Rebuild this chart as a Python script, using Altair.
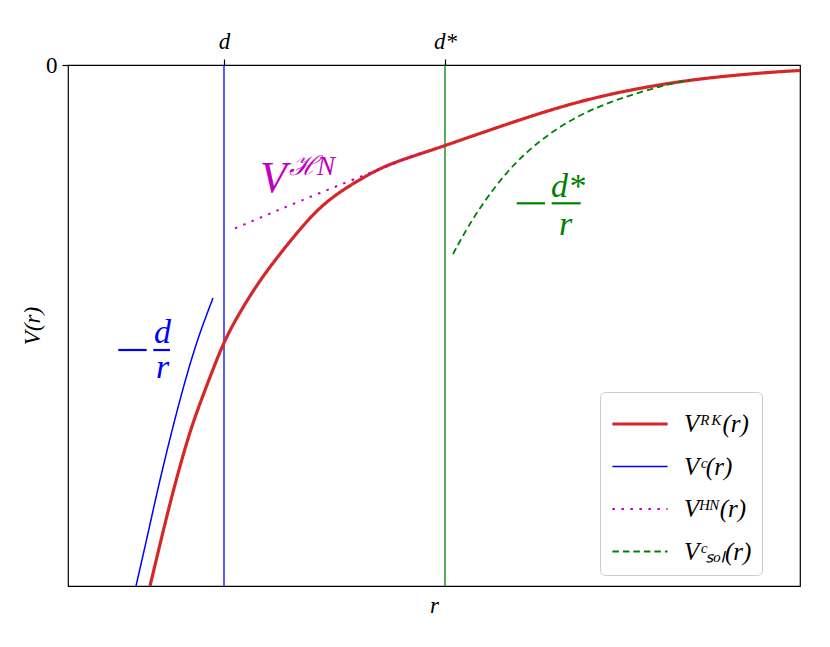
import altair as alt
import pandas as pd

# ---------------- data ----------------
series_names = ["Vᴿᴷ(r)", "Vᶜ(r)", "Vᴴᴺ(r)", "Vᶜₛₒₗ(r)"]
series_colors = ["#d62728", "#0000ff", "#bf00bf", "#008000"]
series_dash = [[1, 0], [1, 0], [2.5, 6.5], [6.5, 4]]
series_width = [3.2, 1.5, 2.0, 1.8]

red_r = [0.82, 0.937, 1.053, 1.193, 1.287, 1.42, 1.537, 1.653, 1.853, 2.053, 2.32,
         2.487, 2.653, 2.82, 2.987, 3.153, 3.32, 3.487, 3.653, 3.787, 4.39, 5.05,
         5.72, 6.39, 7.05, 7.32]
red_V = [-5.21, -4.72, -4.25, -3.75, -3.47, -3.12, -2.82, -2.585, -2.25, -1.97, -1.64,
         -1.455, -1.315, -1.205, -1.105, -1.02, -0.955, -0.90, -0.845, -0.80, -0.59, -0.375,
         -0.225, -0.125, -0.07, -0.055]

blue_r = [0.68, 0.79, 0.90, 1.02, 1.15, 1.29, 1.45]
blue_V = [-5.21, -4.73, -4.23, -3.73, -3.23, -2.75, -2.33]

mag_r = [1.67, 2.52, 3.52]
mag_V = [-1.633, -1.275, -0.883]

green_r = [3.85, 4.05, 4.39, 4.72, 5.05, 5.39, 5.72, 6.05, 6.22]
green_V = [-1.89, -1.52, -1.05, -0.75, -0.53, -0.38, -0.27, -0.18, -0.15]

# vertical markers d and d*
vline_r = [1.56, 3.77]
vline_colors = ["#0000ff", "#008000"]
vline_labels = ["d", "d*"]

# in-plot annotations
ann_text = ["V", "ℋ", "N", "d", "r", "d*", "r"]
ann_r = [2.055, 2.35, 2.58, 0.945, 0.945, 5.0, 4.975]
ann_V = [-1.27, -1.10, -1.10, -2.78, -3.13, -1.32, -1.70]
ann_size = [44, 27, 27, 34, 34, 34, 34]
ann_color = ["#bf00bf", "#bf00bf", "#bf00bf", "#0000ff", "#0000ff", "#008000", "#008000"]

# minus signs and fraction bars of -d/r and -d*/r
bar_r1 = [0.503, 0.853, 4.487, 4.837]
bar_r2 = [0.787, 1.02, 4.77, 5.127]
bar_V = [-2.85, -2.85, -1.383, -1.383]
bar_color = ["#0000ff", "#0000ff", "#008000", "#008000"]

# ---------------- tables ----------------
rows = []
for name, rs, vs in zip(series_names, [red_r, blue_r, mag_r, green_r],
                        [red_V, blue_V, mag_V, green_V]):
    for i, (r, v) in enumerate(zip(rs, vs)):
        rows.append({"series": name, "r": r, "V": v, "i": i})
df = pd.DataFrame(rows)

ann_df = pd.DataFrame({"text": ann_text, "r": ann_r, "V": ann_V,
                       "size": ann_size, "color": ann_color})
bar_df = pd.DataFrame({"r": bar_r1, "r2": bar_r2, "V": bar_V, "color": bar_color})

FONT = "Liberation Serif"

x_scale = alt.Scale(domain=[0, 7.32], nice=False, zero=False)
y_scale = alt.Scale(domain=[-5.21, 0], nice=False, zero=False)

legend = alt.Legend(
    title=None, orient="none", legendX=532, legendY=327, padding=10,
    fillColor="white", strokeColor="#cccccc", cornerRadius=5,
    labelFont=FONT, labelFontSize=25, labelFontStyle="italic", labelColor="black",
    symbolType="M-1.38,0H1.38", symbolSize=1600, symbolOffset=8,
    labelOffset=22, rowPadding=8.5, labelLimit=300,
)

label_expr = "datum.value < 2 ? '%s' : '%s'" % (vline_labels[0], vline_labels[1])

lines = alt.Chart(df).mark_line(clip=True, interpolate="basis").encode(
    x=alt.X("r:Q", scale=x_scale,
            axis=alt.Axis(orient="top", values=vline_r, labelExpr=label_expr,
                          title=None, grid=False, domain=False, tickSize=6,
                          labelPadding=6, labelFontStyle="italic", labelFontSize=23)),
    y=alt.Y("V:Q", scale=y_scale,
            axis=alt.Axis(values=[0], labelExpr="'0'", title="V(r)", grid=False,
                          domain=False, tickSize=6, labelPadding=5,
                          titleFontStyle="italic", titlePadding=1)),
    color=alt.Color("series:N", scale=alt.Scale(domain=series_names, range=series_colors),
                    legend=legend),
    strokeDash=alt.StrokeDash("series:N", scale=alt.Scale(domain=series_names, range=series_dash),
                              legend=legend),
    strokeWidth=alt.StrokeWidth("series:N",
                                scale=alt.Scale(type="ordinal", domain=series_names, range=series_width),
                                legend=legend),
    order="i:Q",
)

vrule_d = alt.Chart(pd.DataFrame({"r": [vline_r[0]]})).mark_rule(
    color=vline_colors[0], strokeWidth=1.3).encode(
    x=alt.X("r:Q", scale=x_scale,
            axis=alt.Axis(orient="bottom", title="r", labels=False, ticks=False,
                          domain=False, grid=False, titleFontStyle="italic",
                          titlePadding=8)),
)
vrule_ds = alt.Chart(pd.DataFrame({"r": [vline_r[1]]})).mark_rule(
    color=vline_colors[1], strokeWidth=1.3).encode(
    x=alt.X("r:Q", scale=x_scale, axis=None),
)

texts = alt.Chart(ann_df).mark_text(font=FONT, fontStyle="italic", align="center",
                                    baseline="alphabetic").encode(
    x=alt.X("r:Q", scale=x_scale, axis=None),
    y=alt.Y("V:Q", scale=y_scale, axis=None),
    text="text:N",
    size=alt.Size("size:Q", scale=None, legend=None),
    fill=alt.Fill("color:N", scale=None, legend=None),
)

bars = alt.Chart(bar_df).mark_rule(strokeWidth=2.2).encode(
    x=alt.X("r:Q", scale=x_scale, axis=None),
    x2="r2:Q",
    y=alt.Y("V:Q", scale=y_scale, axis=None),
    stroke=alt.Stroke("color:N", scale=None, legend=None),
)

chart = alt.layer(vrule_d, vrule_ds, lines, texts, bars).resolve_axis(
    x="independent", y="independent"
).properties(
    width=732, height=521,
    padding={"left": 60, "top": 57, "right": 10, "bottom": 40},
    autosize=alt.AutoSizeParams(type="none"),
).configure_view(
    stroke="black", strokeWidth=1.2
).configure_axis(
    labelFont=FONT, titleFont=FONT, labelFontSize=23, titleFontSize=23,
    titleFontWeight="normal", labelColor="black", titleColor="black",
    tickColor="black", tickWidth=1.2,
)

chart.save("out.html", embed_options={"renderer": "svg", "actions": False})
